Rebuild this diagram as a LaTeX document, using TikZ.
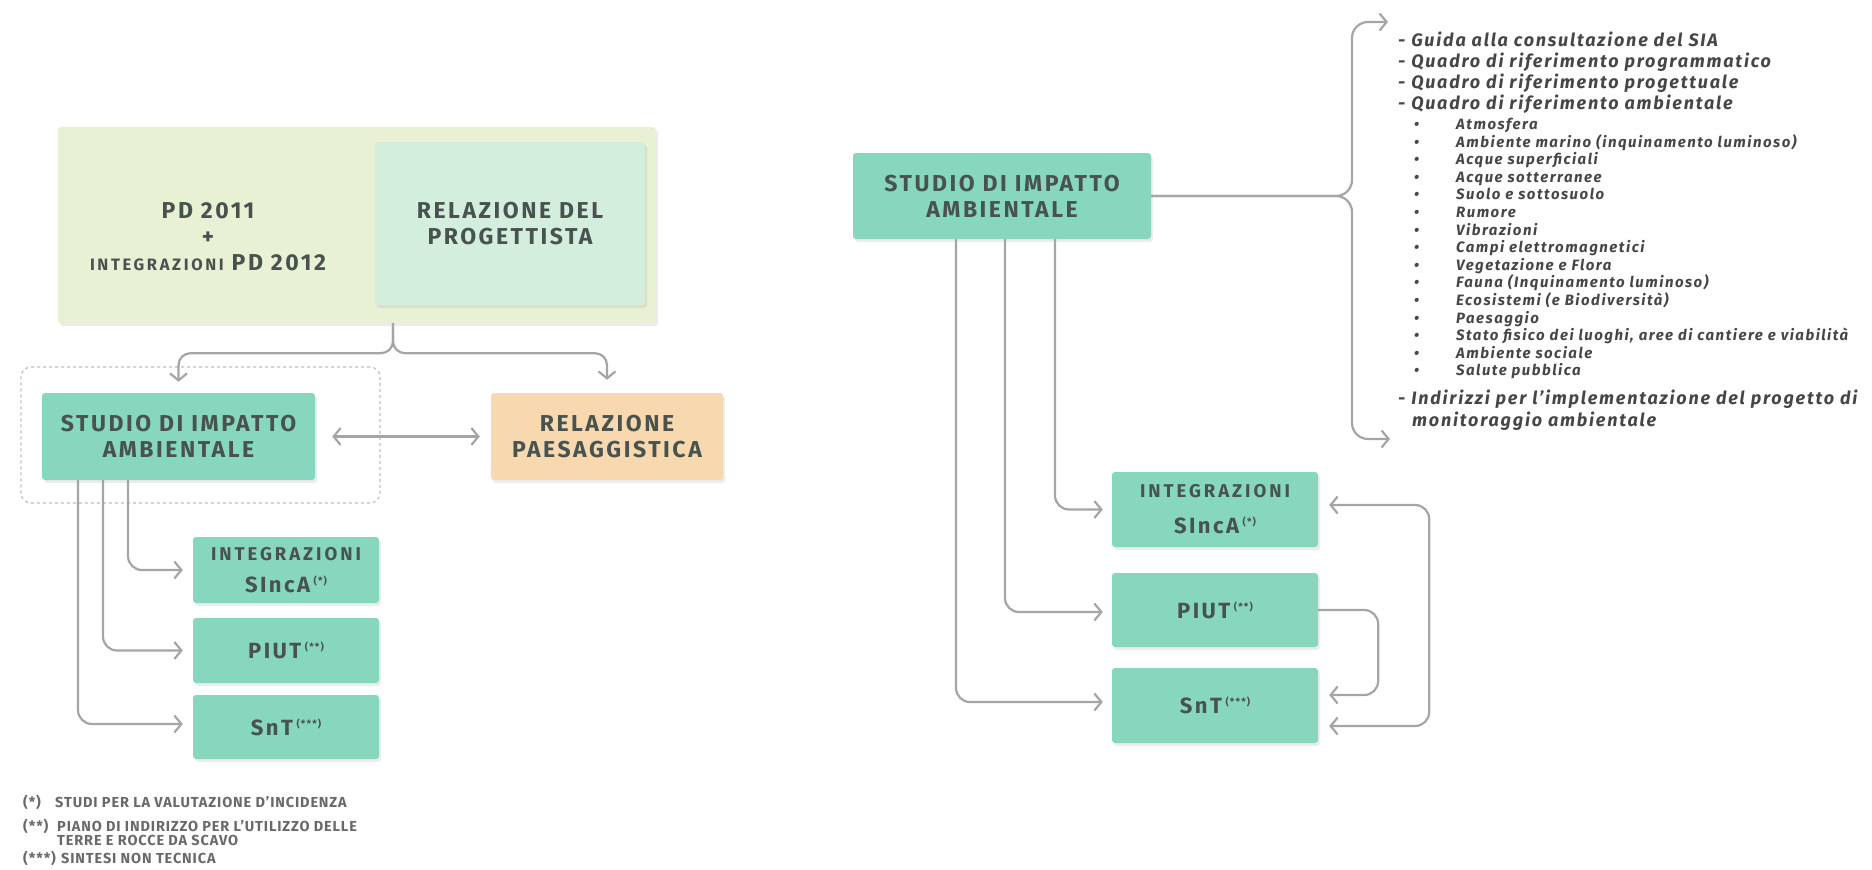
\documentclass[tikz,border=0pt]{standalone}
\usepackage{fontspec}
\setmainfont{Fira Sans}
\newfontfamily\boxfont{Fira Sans}[LetterSpace=11]
\newfontfamily\notefont{Fira Sans}[LetterSpace=6]
\newfontfamily\listfont{Fira Sans}[LetterSpace=10]
\newfontfamily\bulletfont{Fira Sans}[LetterSpace=10]
\usetikzlibrary{arrows.meta,shadows}

\definecolor{mint}{RGB}{135,215,190}
\definecolor{paleolive}{RGB}{232,241,212}
\definecolor{palemint}{RGB}{212,238,221}
\definecolor{peach}{RGB}{248,216,174}
\definecolor{ink}{RGB}{72,82,78}
\definecolor{listink}{RGB}{70,70,70}
\definecolor{linkgray}{RGB}{165,165,165}
\definecolor{dashgray}{RGB}{190,190,190}
\definecolor{notegray}{RGB}{105,105,105}

\newcommand{\supmark}[1]{\raisebox{8pt}{\fontsize{10}{10}\selectfont #1}}
\newcommand{\smallcap}[2][18.5]{{\fontsize{#1}{20}\selectfont\addfontfeatures{LetterSpace=16}#2}}

\tikzset{
  box/.style={fill=mint, rounded corners=3pt, inner sep=0pt, align=center, text=ink,
    font=\boxfont\bfseries\fontsize{23}{26}\selectfont,
    drop shadow={opacity=0.15, shadow xshift=2pt, shadow yshift=-3pt}},
  link/.style={draw=linkgray, line width=2.2pt, -{Straight Barb[length=7pt,width=17pt]}},
  bothlink/.style={link, {Straight Barb[length=7pt,width=17pt]}-{Straight Barb[length=7pt,width=17pt]}},
  listitem/.style={anchor=west, inner sep=0pt, text=listink,
    font=\listfont\bfseries\itshape\fontsize{18}{20}\selectfont, text height=12pt, text depth=4pt},
  subitem/.style={listitem, font=\bulletfont\bfseries\itshape\fontsize{15}{17}\selectfont,
    text height=10pt, text depth=3pt},
  note/.style={anchor=west, inner sep=0pt, align=left, text=notegray,
    font=\notefont\bfseries\fontsize{14.5}{14}\selectfont},
}

\begin{document}
\begin{tikzpicture}[x=1pt,y=-1pt]
\useasboundingbox (0,0) rectangle (1872,870);

% left scheme
\node[box, fill=paleolive, minimum width=598, minimum height=196] (pdbox) at (357,225) {};
\node[box, fill=palemint, minimum width=270, minimum height=163] (relprog) at (510,223.5) {RELAZIONE DEL\\PROGETTISTA};
\node[align=center, inner sep=0pt, text=ink, font=\boxfont\bfseries\fontsize{23}{26}\selectfont] (pd) at (208,236.5)
  {PD 2011\\+\\\smallcap[16.5]{INTEGRAZIONI} PD 2012};

\node[draw=dashgray, dashed, line width=1.2pt, rounded corners=10pt, minimum width=359, minimum height=136] (group) at (200.5,435) {};
\node[box, minimum width=273, minimum height=87] (sia) at (178.5,436.5) {STUDIO DI IMPATTO\\AMBIENTALE};
\node[box, fill=peach, minimum width=232, minimum height=87] (relpaes) at (607,436.5) {RELAZIONE\\PAESAGGISTICA};

\draw[link, rounded corners=12pt] ([xshift=36pt]pdbox.south) -- ++(0,30) -| ([yshift=11pt]sia.north);
\draw[link, rounded corners=12pt] ([xshift=36pt]pdbox.south) -- ++(0,30) -| ([yshift=13pt]relpaes.north);
\draw[bothlink, shorten <=17pt, shorten >=11pt] (sia.east) -- (relpaes.west);

\node[box, minimum width=186, minimum height=66] (sinca) at (286,570)
  {\smallcap{INTEGRAZIONI}\\[6pt]{\fontsize{22}{24}\selectfont SIncA\,\supmark{(*)}}};
\node[box, minimum width=186, minimum height=65] (piut) at (286,650.5) {\fontsize{22}{24}\selectfont PIUT\,\supmark{(**)}};
\node[box, minimum width=186, minimum height=64] (snt) at (286,727) {\fontsize{22}{24}\selectfont SnT\,\supmark{(***)}};

\draw[link, rounded corners=14pt] ([xshift=-50.5pt]sia.south) |- ([xshift=-10pt]sinca.west);
\draw[link, rounded corners=14pt] ([xshift=-75.5pt]sia.south) |- ([xshift=-10pt]piut.west);
\draw[link, rounded corners=14pt] ([xshift=-100.5pt]sia.south) |- ([xshift=-10pt,yshift=3pt]snt.west);

% notes
\node[note] (mark1) at (23,802) {(*)};
\node[note] (note1) at (55,802) {STUDI PER LA VALUTAZIONE D’INCIDENZA};
\node[note] (mark2) at (23,826) {(**)};
\node[note] (note2) at (57,833) {PIANO DI INDIRIZZO PER L’UTILIZZO DELLE\\TERRE E ROCCE DA SCAVO};
\node[note] (mark3) at (23,858) {(***)};
\node[note] (note3) at (61,858) {SINTESI NON TECNICA};

% right scheme
\node[box, minimum width=298, minimum height=86] (sia2) at (1002,196) {STUDIO DI IMPATTO\\AMBIENTALE};
\coordinate (brace) at (1352,196);
\coordinate (listtop) at (1388,22);
\coordinate (listend) at (1390,439);
\draw[link, rounded corners=16pt] (sia2.east) -- (brace) |- (listtop);
\draw[link, rounded corners=16pt] (sia2.east) -- (brace) |- (listend);

\node[listitem] (q1) at (1398,42) {- Guida alla consultazione del SIA};
\node[listitem] (q2) at (1398,63) {- Quadro di riferimento programmatico};
\node[listitem] (q3) at (1398,84) {- Quadro di riferimento progettuale};
\node[listitem] (q4) at (1398,105) {- Quadro di riferimento ambientale};
\foreach \txt [count=\i] in {Atmosfera, Ambiente marino (inquinamento luminoso), Acque superficiali,
  Acque sotterranee, Suolo e sottosuolo, Rumore, Vibrazioni, Campi elettromagnetici,
  Vegetazione e Flora, Fauna (Inquinamento luminoso), Ecosistemi (e Biodiversità), Paesaggio,
  {Stato fisico dei luoghi, aree di cantiere e viabilità}, Ambiente sociale, Salute pubblica}
  \node[subitem] (b\i) at (1414,{126+(\i-1)*17.6}) {\makebox[42pt][l]{•}\txt};
\node[listitem] (q5) at (1398,400) {- Indirizzi per l’implementazione del progetto di};
\node[listitem] (q6) at (1412,422) {monitoraggio ambientale};

\node[box, minimum width=206, minimum height=75] (sinca2) at (1215,509.5)
  {\smallcap{INTEGRAZIONI}\\[10pt]{\fontsize{22}{24}\selectfont SIncA\,\supmark{(*)}}};
\node[box, minimum width=206, minimum height=74] (piut2) at (1215,610) {\fontsize{22}{24}\selectfont PIUT\,\supmark{(**)}};
\node[box, minimum width=206, minimum height=75] (snt2) at (1215,705.5) {\fontsize{22}{24}\selectfont SnT\,\supmark{(***)}};

\draw[link, rounded corners=14pt] ([xshift=53pt]sia2.south) |- ([xshift=-9pt]sinca2.west);
\draw[link, rounded corners=14pt] ([xshift=3pt]sia2.south) |- ([xshift=-9pt,yshift=-2pt]piut2.west);
\draw[link, rounded corners=14pt] ([xshift=-46pt]sia2.south) |- ([xshift=-9pt,yshift=3.5pt]snt2.west);

\draw[link, rounded corners=14pt] (piut2.east) -- ++(60,0) |- ([xshift=11pt,yshift=10.5pt]snt2.east);
\draw[bothlink, rounded corners=14pt] ([xshift=11pt,yshift=4.5pt]sinca2.east) -- ++(100,0) |- ([xshift=11pt,yshift=-20.5pt]snt2.east);
\end{tikzpicture}
\end{document}
